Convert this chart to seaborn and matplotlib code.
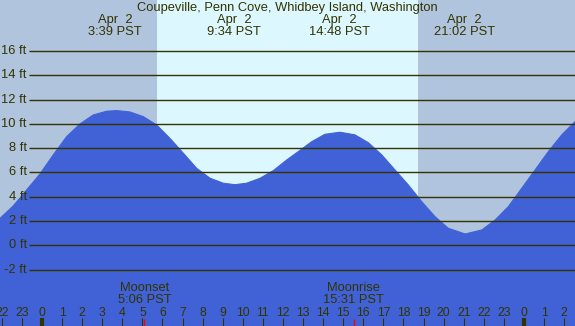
import matplotlib
matplotlib.use("Agg")
import matplotlib.pyplot as plt
import seaborn as sns

# tide height (hours from midnight Apr 2, PST)
tide_hour = [-2.09, -1.43, -0.76, -0.10, 0.56, 1.23, 1.89, 2.55, 3.22, 3.72,
             4.38, 5.04, 5.71, 6.37, 7.04, 7.70, 8.37, 9.03, 9.61, 10.19,
             10.86, 11.52, 12.19, 12.76, 13.43, 14.09, 14.84, 15.59, 16.25, 16.92,
             17.58, 18.24, 18.91, 19.57, 20.23, 21.07, 21.90, 22.56, 23.22, 23.89,
             24.55, 25.21, 25.88, 26.54]
tide_ft = [2.22, 3.24, 4.56, 5.87, 7.44, 8.95, 9.99, 10.73, 11.04, 11.09,
           10.98, 10.60, 9.91, 8.81, 7.58, 6.34, 5.52, 5.11, 4.99, 5.11,
           5.52, 6.15, 7.03, 7.71, 8.53, 9.14, 9.31, 9.09, 8.45, 7.44,
           6.20, 4.97, 3.59, 2.36, 1.40, 0.93, 1.26, 2.08, 3.18, 4.70,
           6.20, 7.71, 9.09, 10.18]

levels = [16, 14, 12, 10, 8, 6, 4, 2, 0, -2]
tide_events = [3.65, 9.567, 14.8, 21.033]
event_labels = ["3:39 PST", "9:34 PST", "14:48 PST", "21:02 PST"]
sunrise, sunset = 5.71, 18.71
moon_events = [5.1, 15.517]
moon_names = ["Moonset", "Moonrise"]
moon_labels = ["5:06 PST", "15:31 PST"]
tick_hours = list(range(-2, 27))
tick_labels = [str(h % 24) for h in tick_hours]

title = "Coupeville, Penn Cove, Whidbey Island, Washington"

xmin, xmax = -2.09, 26.54
ymin, ymax = -6.65, 20.2

night = "#b0c4de"
day = "#ddf7ff"
water = "#4162d6"
ink = "#333300"
fs = 9.3

sns.set_theme(style="white")
plt.rcParams["font.family"] = ["Liberation Sans", "DejaVu Sans"]

fig = plt.figure(figsize=(5.75, 3.26), dpi=100)
ax = fig.add_axes([0, 0, 1, 1])
ax.set_facecolor(day)
ax.set_axisbelow(False)
for s in ax.spines.values():
    s.set_visible(False)

ax.axvspan(xmin - 1, sunrise, color=night, lw=0)
ax.axvspan(sunset, xmax + 1, color=night, lw=0)

ax.fill_between(tide_hour, tide_ft, ymin - 1, color=water, lw=0)
sns.lineplot(x=tide_hour, y=tide_ft, color=water, lw=0.8, ax=ax)

ax.hlines(levels, -0.63, xmax + 1, color=ink, lw=1)
for lv in levels:
    ax.text(-0.76, lv, f"{lv} ft", ha="right", va="center", fontsize=fs, color=ink)

tr = ax.get_xaxis_transform()
ax.text(0.5, 1 - 8 / 326, title, transform=ax.transAxes, ha="center", va="center",
        fontsize=fs, color=ink)
for h, lab in zip(tide_events, event_labels):
    ax.text(h, 1 - 20 / 326, "Apr  2", transform=tr, ha="center", va="center",
            fontsize=fs, color=ink)
    ax.text(h, 1 - 32 / 326, lab, transform=tr, ha="center", va="center",
            fontsize=fs, color=ink)

for h, name, lab in zip(moon_events, moon_names, moon_labels):
    ax.text(h, 1 - 288 / 326, name, transform=tr, ha="center", va="center",
            fontsize=fs, color=ink)
    ax.text(h, 1 - 300 / 326, lab, transform=tr, ha="center", va="center",
            fontsize=fs, color=ink)

ax.set_xticks(tick_hours)
ax.set_xticklabels(tick_labels)
ax.set_yticks([])
ax.tick_params(axis="x", direction="in", length=5.5, width=0.8, color=ink,
               pad=-13.5, labelsize=8.8, labelcolor=ink, bottom=True)
for t, h in zip(ax.xaxis.get_major_ticks(), tick_hours):
    if h % 24 == 0:
        t.tick1line.set_markeredgewidth(3)
ax.vlines(moon_events, 0, 0.022, transform=tr, color="red", lw=1, zorder=5)

ax.set_xlim(xmin, xmax)
ax.set_ylim(ymin, ymax)
ax.set_xlabel("")
ax.set_ylabel("")

fig.savefig("out.png", dpi=100)
